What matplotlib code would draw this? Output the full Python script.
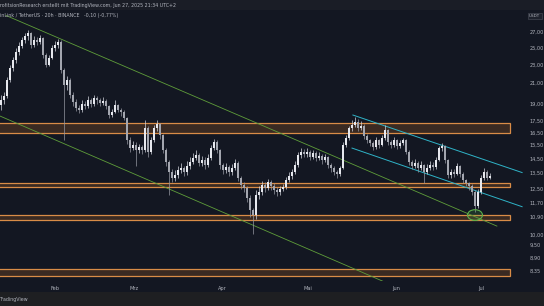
import numpy as np
import matplotlib
matplotlib.use("Agg")
import matplotlib.pyplot as plt
import matplotlib.patches as patches
import matplotlib.transforms as mtransforms
from matplotlib.ticker import NullLocator

# LINK/USDT 20h candles, bar index = position
closes = [19.33, 19.71, 21.33, 22.62, 23.53, 24.48, 25.20, 25.96, 26.48, 26.87,
          25.33, 25.96, 25.71, 26.22, 24.12, 22.96, 23.77, 24.96, 25.33, 25.71,
          22.40, 20.81, 21.33, 19.81, 19.14, 18.59, 18.41, 18.96, 18.78, 19.33,
          18.96, 19.52, 19.33, 19.05, 19.24, 18.78, 17.96, 18.23, 18.87, 18.41,
          18.23, 17.70, 15.89, 15.27, 15.50, 15.12, 15.35, 15.12, 16.85, 14.98,
          15.89, 16.85, 17.19, 16.28, 15.12, 14.26, 13.58, 13.18, 13.38, 13.71,
          13.85, 13.58, 13.98, 14.26, 14.54, 14.76, 14.19, 14.40, 14.05, 14.54,
          15.27, 15.73, 15.12, 14.05, 13.71, 13.91, 13.58, 13.85, 14.19, 13.18,
          12.74, 12.55, 11.95, 11.26, 10.99, 12.13, 12.31, 12.74, 12.55, 12.92,
          12.68, 12.43, 12.31, 12.49, 12.61, 13.05, 13.31, 13.58, 14.05, 14.76,
          14.98, 14.83, 14.98, 14.61, 14.90, 14.54, 14.69, 14.40, 14.61, 14.05,
          13.85, 13.58, 13.45, 13.85, 15.50, 16.04, 16.85, 17.10, 17.36, 16.85,
          17.02, 16.20, 15.89, 15.65, 15.35, 15.89, 15.50, 16.04, 16.69, 15.73,
          15.50, 15.89, 15.42, 15.65, 15.89, 14.98, 14.26, 13.98, 14.19, 13.85,
          14.05, 13.58, 13.85, 14.05, 13.91, 14.40, 15.27, 15.42, 14.40, 13.38,
          13.58, 13.45, 13.98, 13.45, 13.05, 12.86, 12.68, 12.31, 11.48, 12.31,
          13.18, 13.58, 13.18, 13.31]
highs = [19.85, 20.10, 21.60, 22.95, 23.90, 24.90, 25.70, 26.40, 26.90, 27.30,
         27.05, 26.50, 26.30, 26.60, 26.35, 24.30, 24.10, 25.30, 25.80, 26.10,
         25.90, 22.60, 21.80, 21.50, 20.10, 19.40, 18.90, 19.30, 19.20, 19.70,
         19.50, 19.85, 19.70, 19.50, 19.60, 19.40, 18.90, 18.50, 19.30, 19.00,
         18.60, 18.40, 17.80, 16.10, 15.80, 15.70, 15.60, 15.50, 17.53, 17.00,
         16.10, 17.10, 17.55, 17.30, 16.40, 15.30, 14.40, 13.80, 13.70, 14.00,
         14.20, 14.00, 14.30, 14.60, 14.90, 15.15, 14.90, 14.70, 14.60, 14.80,
         15.50, 15.95, 15.85, 15.20, 14.20, 14.20, 14.05, 14.10, 14.45, 14.30,
         13.30, 12.90, 12.70, 12.10, 11.40, 12.40, 12.70, 13.00, 12.95, 13.15,
         13.05, 12.85, 12.60, 12.70, 12.80, 13.25, 13.55, 13.80, 14.30, 15.00,
         15.25, 15.20, 15.25, 15.10, 15.15, 15.05, 14.95, 14.80, 14.85, 14.70,
         14.20, 13.95, 13.70, 14.00, 15.70, 16.30, 17.05, 17.50, 17.80, 17.60,
         17.40, 17.15, 16.35, 16.00, 15.80, 16.10, 16.00, 16.25, 17.10, 16.80,
         15.90, 16.10, 16.00, 15.90, 16.04, 16.00, 15.10, 14.40, 14.45, 14.30,
         14.30, 14.15, 14.10, 14.30, 14.25, 14.60, 15.45, 15.65, 15.50, 14.50,
         13.80, 13.75, 14.19, 14.05, 13.55, 13.15, 12.95, 12.80, 12.40, 12.50,
         13.40, 13.85, 13.70, 13.50]
lows = [18.40, 19.00, 19.55, 21.10, 22.30, 23.20, 24.10, 24.90, 25.60, 26.00,
        25.00, 25.10, 25.30, 25.50, 23.80, 22.70, 22.80, 23.60, 24.60, 25.00,
        22.10, 15.89, 20.30, 19.50, 18.80, 18.30, 18.10, 18.20, 18.50, 18.60,
        18.70, 18.80, 19.00, 18.80, 18.90, 18.50, 17.70, 17.80, 18.10, 18.20,
        17.90, 17.50, 15.60, 15.00, 15.10, 13.98, 14.90, 14.80, 15.00, 14.60,
        14.80, 15.70, 16.60, 16.00, 14.90, 14.00, 12.10, 12.90, 13.00, 13.20,
        13.50, 13.30, 13.40, 13.80, 14.10, 14.40, 13.95, 14.00, 13.80, 13.90,
        14.40, 15.10, 14.90, 13.80, 13.45, 13.50, 13.30, 13.40, 13.70, 13.00,
        12.50, 12.30, 11.70, 10.90, 10.00, 10.80, 11.90, 12.10, 12.30, 12.40,
        12.45, 12.20, 12.05, 12.15, 12.35, 12.50, 12.90, 13.15, 13.45, 13.90,
        14.55, 14.60, 14.65, 14.40, 14.45, 14.30, 14.40, 14.15, 14.25, 13.85,
        13.60, 13.40, 13.20, 13.30, 13.75, 15.35, 15.90, 16.60, 16.90, 16.60,
        16.70, 15.95, 15.65, 15.40, 15.15, 15.20, 15.30, 15.40, 15.90, 15.50,
        15.25, 15.35, 15.20, 15.30, 15.50, 14.80, 14.05, 13.75, 13.85, 13.60,
        13.70, 12.86, 13.45, 13.70, 13.70, 13.80, 14.30, 15.05, 14.20, 13.20,
        13.20, 13.25, 13.35, 13.25, 12.85, 12.65, 12.45, 12.10, 11.15, 11.35,
        12.20, 13.05, 13.05, 13.10]
first_open = 18.90
opens = [first_open] + closes[:-1]

# horizontal zones (price low, price high)
zones = [(16.44, 17.27), (12.59, 12.88), (10.72, 10.97), (8.13, 8.45)]
zone_end = 169.7

# trend lines: (bar, price) pairs
green_lines = [[(1.67, 29.28), (165.3, 10.41)],
               [(-0.33, 17.87), (129.7, 7.82)]]
cyan_lines = [[(117.3, 17.96), (173.7, 13.54)],
              [(117.0, 15.27), (173.7, 11.45)]]
low_mark = (158.0, 10.99)

month_names = ["Feb", "Mrz", "Apr", "Mai", "Jun", "Jul"]
month_pos = [18.0, 44.4, 73.9, 102.4, 131.7, 160.2]
price_ticks = [27.0, 25.0, 23.0, 21.0, 19.0, 17.5, 16.5, 15.5, 14.5, 13.5,
               12.5, 11.7, 10.9, 10.0, 9.5, 8.9, 8.35]

bg = "#131722"
txt = "#b2b5be"

W, H = 544, 306
fig = plt.figure(figsize=(W / 100, H / 100), dpi=100)
fig.patch.set_facecolor(bg)

# header / footer strips
fig.add_artist(patches.Rectangle((0, 1 - 10 / H), 1, 10 / H, transform=fig.transFigure,
                                 facecolor="#1a1d26", edgecolor="none"))
fig.add_artist(patches.Rectangle((0, 0), 1, 14 / H, transform=fig.transFigure,
                                 facecolor="#1e1f22", edgecolor="none"))
fig.text(0.0, 1 - 5.5 / H, "rofitsionResearch erstellt mit TradingView.com, Jun 27, 2025 21:34 UTC+2",
         fontsize=3.4, color=txt, va="center", ha="left")
fig.text(0.0, 7 / H, "TradingView", fontsize=3.4, color=txt, va="center", ha="left")

ax = fig.add_axes([0, 25 / H, 526 / W, (281 - 10) / H])
ax.set_facecolor(bg)
ax.set_yscale("log")
ax.set_ylim(7.95, 30.08)
ax.set_xlim(-0.33, 175.0)

# zones
for lo, hi in zones:
    ax.add_patch(patches.Rectangle((-5, lo), zone_end + 5, hi - lo, facecolor="#3a2a22",
                                   edgecolor="#d98c47", linewidth=0.9, zorder=1))

for (x0, y0), (x1, y1) in green_lines:
    ax.plot([x0, x1], [y0, y1], color="#5f9e3a", linewidth=0.6, zorder=2)
for (x0, y0), (x1, y1) in cyan_lines:
    ax.plot([x0, x1], [y0, y1], color="#2fb4c8", linewidth=0.7, zorder=2)

# candles
idx = np.arange(len(closes))
o = np.array(opens)
c = np.array(closes)
up = c >= o
ax.vlines(idx, lows, highs, color=np.where(up, "#d1d4dc", "#9598a1"), linewidth=0.5, zorder=3)
ax.bar(idx, np.abs(c - o), bottom=np.minimum(o, c), width=0.6,
       color=np.where(up, "#e6e8ee", "#a3a6af"), linewidth=0, zorder=4)

# green circle around the low
tr = fig.dpi_scale_trans + mtransforms.ScaledTranslation(low_mark[0], low_mark[1], ax.transData)
ax.add_patch(patches.Ellipse((0, 0), 0.15, 0.107, transform=tr, facecolor=(0.3, 0.7, 0.3, 0.18),
                             edgecolor="#5cb04a", linewidth=0.8, zorder=5))

ax.text(0.0, 0.978, "inLink / TetherUS \u00b7 20h \u00b7 BINANCE   -0,10 (-0,77%)",
        transform=ax.transAxes, fontsize=3.4, color=txt, va="center", ha="left")

for s in ax.spines.values():
    s.set_visible(False)
ax.yaxis.tick_right()
ax.set_yticks(price_ticks)
ax.set_yticklabels([f"{v:.2f}".replace(".", ",") for v in price_ticks])
ax.yaxis.set_minor_locator(NullLocator())
ax.set_xticks(month_pos)
ax.set_xticklabels(month_names)
ax.tick_params(axis="y", length=0, pad=2.5, labelsize=3.6, labelcolor=txt)
ax.tick_params(axis="x", length=0, pad=3.5, labelsize=3.6, labelcolor=txt)

fig.text(529 / W, 1 - 16 / H, "USDT", fontsize=3.0, color=txt, va="center", ha="left",
         bbox=dict(boxstyle="square,pad=0.3", facecolor="#1e222d", edgecolor="#434651", linewidth=0.5))

fig.savefig("out.png", dpi=100, facecolor=fig.get_facecolor())
